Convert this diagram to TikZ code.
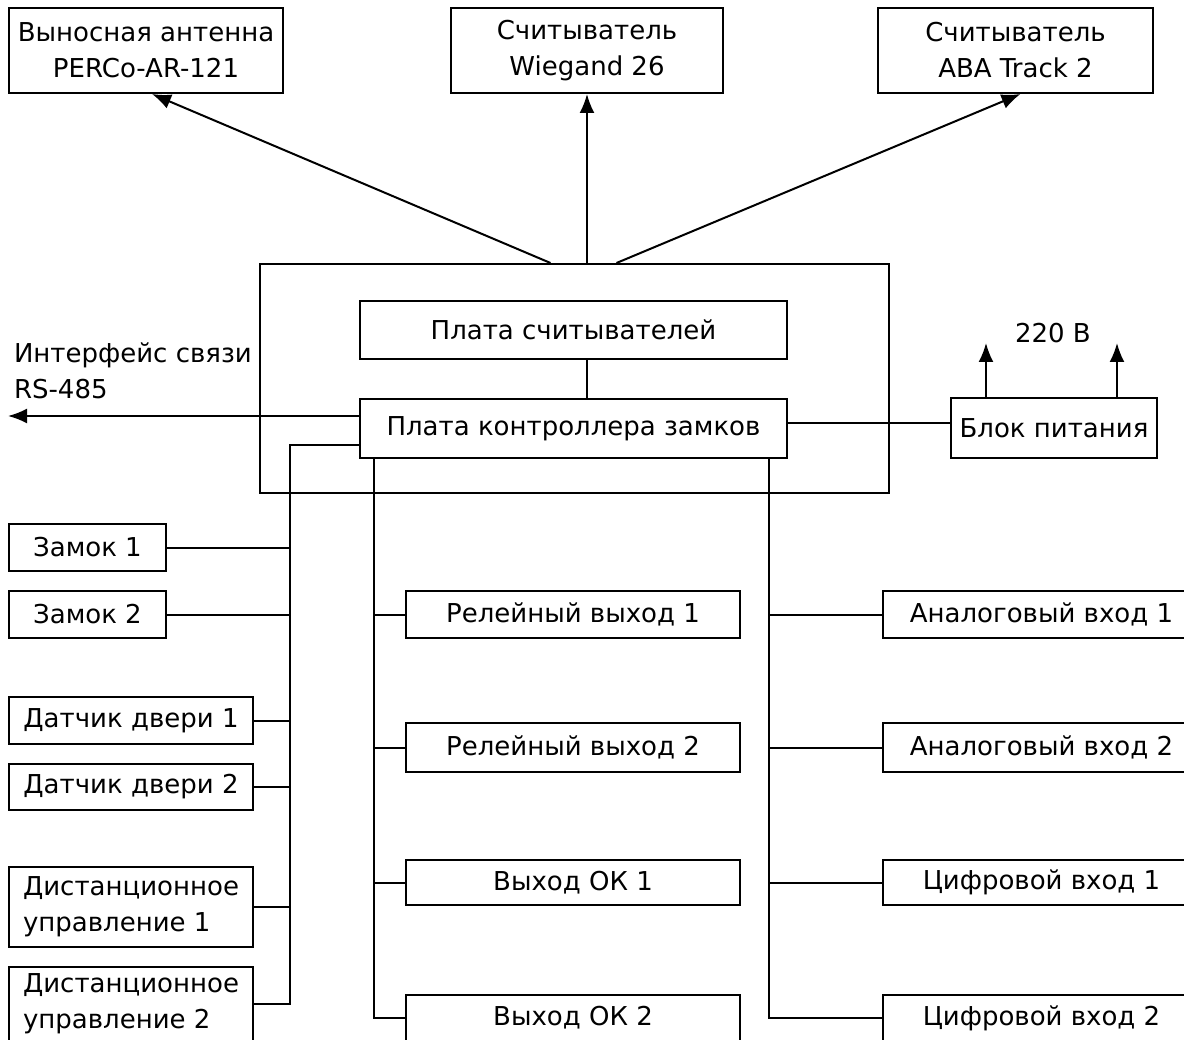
\documentclass[tikz,border=0pt]{standalone}
\usepackage{fontspec}
\setmainfont{DejaVu Sans}
\usetikzlibrary{arrows.meta}

\begin{document}
\begin{tikzpicture}[x=1pt, y=-1pt, line width=2pt,
	box/.style={draw, inner sep=0pt, align=center, font=\fontsize{26}{36}\selectfont},
	txt/.style={inner sep=0pt, align=left, font=\fontsize{26}{36}\selectfont},
	arr/.style={-{Latex[length=19pt, width=15pt]}}]

	\useasboundingbox (0,0) rectangle (1184,1040);

	%readers
	\node[box, minimum width=274, minimum height=85] (ant) at (146,50.5) {Выносная антенна\\PERCo-AR-121};
	\node[box, minimum width=272, minimum height=85] (wieg) at (587,50.5) {Считыватель\\Wiegand 26};
	\node[box, minimum width=275, minimum height=85] (aba) at (1015.5,50.5) {Считыватель\\ABA Track 2};

	%controller
	\node[draw, minimum width=629, minimum height=229] (body) at (574.5,378.5) {};
	\node[box, minimum width=427, minimum height=58] (rdr) at (573.5,330) {Плата считывателей};
	\node[box, minimum width=427, minimum height=59] (lck) at (573.5,428.5) {Плата контроллера замков};
	\node[box, minimum width=206, minimum height=60] (psu) at (1054,428) {Блок питания};
	\node[txt] (volt) at (1053,333) {220 В};
	\node[txt, anchor=west] (rs) at (13,371) {Интерфейс связи\\RS-485};

	\coordinate (rsend) at (8,416);
	\coordinate (pw) at ([yshift=5pt]psu.west);
	\coordinate (v1) at (986,343);
	\coordinate (v2) at (1117,343);
	\coordinate (lbus) at (290,445);
	\coordinate (cbus) at (374,458);
	\coordinate (rbus) at (769,458);

	\draw[arr] ([xshift=-24pt]body.north) -- ([xshift=6pt]ant.south);
	\draw[arr] (body.north -| wieg.south) -- (wieg.south);
	\draw[arr] ([xshift=42pt]body.north) -- ([xshift=5pt]aba.south);
	\draw (rdr.south -| wieg.south) -- (lck.north -| wieg.south);
	\draw[arr] (lck.west |- rsend) -- (rsend);
	\draw (pw -| lck.east) -- (pw);
	\draw[arr] (psu.north -| v1) -- (v1);
	\draw[arr] (psu.north -| v2) -- (v2);

	%left column
	\foreach \n/\y/\h/\w/\t in {lock1/547.5/47/157/Замок 1, lock2/614.5/47/157/Замок 2,
		door1/720.5/47/244/Датчик двери 1, door2/787/46/244/Датчик двери 2,
		rem1/907/80/244/Дистанционное\\управление 1, rem2/1004/74/244/Дистанционное\\управление 2}
		\node[box, align=left, anchor=west, minimum width=\w, minimum height=\h] (\n) at (8,\y) {\t};
	\draw (lck.west |- lbus) -- (lbus) |- (rem2.east);
	\foreach \n in {lock1,lock2,door1,door2,rem1}
		\draw (\n.east) -- (\n.east -| lbus);

	%outputs
	\foreach \n/\y/\h/\t in {rel1/614.5/47/Релейный выход 1, rel2/747.5/49/Релейный выход 2,
		ok1/882.5/45/Выход ОК 1, ok2/1018/46/Выход ОК 2}
		\node[box, minimum width=334, minimum height=\h] (\n) at (573,\y) {\t};
	\draw (cbus) |- (ok2.west);
	\foreach \n in {rel1,rel2,ok1}
		\draw (\n.west) -- (\n.west -| cbus);

	%inputs
	\foreach \n/\y/\h/\t in {an1/614.5/47/Аналоговый вход 1, an2/747.5/49/Аналоговый вход 2,
		dig1/882.5/45/Цифровой вход 1, dig2/1018/46/Цифровой вход 2}
		\node[box, minimum width=317, minimum height=\h] (\n) at (1041.5,\y) {\t};
	\draw (rbus) |- (dig2.west);
	\foreach \n in {an1,an2,dig1}
		\draw (\n.west) -- (\n.west -| rbus);
\end{tikzpicture}
\end{document}
